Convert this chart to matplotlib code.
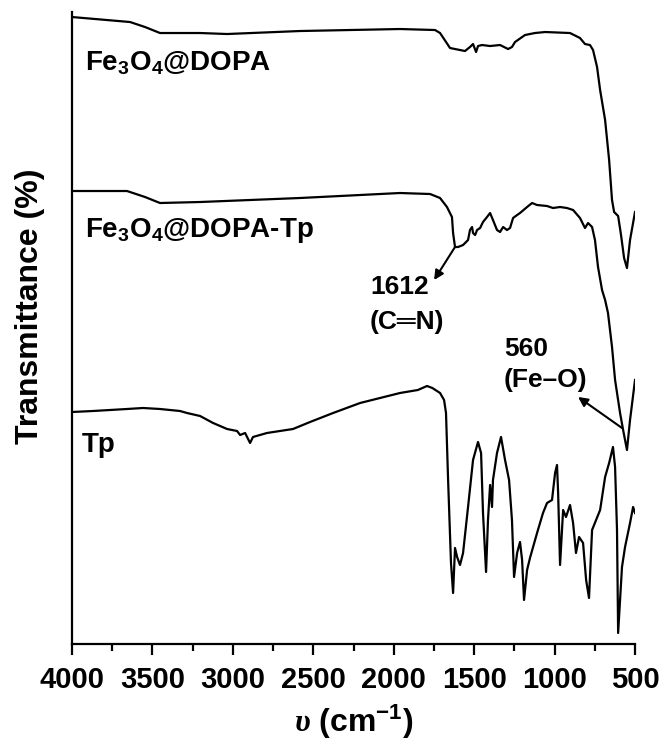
import numpy as np
import matplotlib.pyplot as plt

plt.rcParams['font.family'] = ['Liberation Sans', 'DejaVu Sans']
plt.rcParams['font.weight'] = 'bold'
plt.rcParams['mathtext.fontset'] = 'custom'
plt.rcParams['mathtext.rm'] = 'Liberation Sans:bold'
plt.rcParams['mathtext.bf'] = 'Liberation Sans:bold'
plt.rcParams['mathtext.it'] = 'Liberation Serif:italic'
plt.rcParams['mathtext.default'] = 'rm'

# Fe3O4@DOPA (offset transmittance, a.u.)
wn_dopa = [4000, 3639, 3546, 3453, 3204, 3036, 2583, 1961, 1743, 1712, 1650, 1557,
           1526, 1507, 1488, 1476, 1451, 1401, 1339, 1289, 1265, 1246, 1184, 1122,
           1059, 904, 842, 811, 780, 761, 736, 717, 686, 661, 643, 630, 605, 587,
           568, 550, 531, 500]
t_dopa = [627, 622, 617, 611, 611, 610, 613, 615, 614, 611, 596, 593,
          597, 600, 592, 598, 599, 598, 599, 595, 597, 602, 609, 611,
          612, 611, 606, 600, 599, 594, 577, 554, 524, 484, 444, 432, 428, 409,
          386, 376, 404, 432]

# Fe3O4@DOPA-Tp
wn_dopatp = [4000, 3658, 3546, 3453, 3204, 2583, 1961, 1774, 1712, 1669, 1638, 1631,
             1619, 1600, 1569, 1538, 1526, 1513, 1507, 1494, 1482, 1463, 1445, 1420,
             1401, 1383, 1358, 1339, 1320, 1296, 1277, 1258, 1233, 1215, 1171, 1140,
             1109, 1047, 1010, 966, 923, 885, 842, 811, 792, 767, 749, 730, 705, 686,
             668, 643, 624, 593, 574, 550, 531, 500]
t_dopatp = [453, 453, 447, 441, 442, 446, 451, 450, 446, 437, 427, 411,
            397, 397, 399, 404, 414, 417, 411, 409, 414, 416, 422, 427,
            431, 424, 414, 412, 417, 414, 416, 426, 429, 431, 437, 441,
            439, 438, 436, 437, 436, 434, 426, 416, 421, 417, 404, 377, 354, 344,
            331, 297, 264, 231, 214, 194, 224, 264]

# Tp
wn_tp = [4000, 3869, 3658, 3559, 3453, 3329, 3285, 3204, 3123, 3036, 2974, 2955,
         2924, 2893, 2875, 2788, 2626, 2520, 2377, 2209, 2085, 1961, 1850, 1793,
         1760, 1712, 1687, 1675, 1662, 1644, 1631, 1619, 1606, 1588, 1569, 1538, 1507,
         1476, 1457, 1445, 1426, 1414, 1401, 1389, 1383, 1358, 1333, 1308, 1283,
         1265, 1252, 1233, 1215, 1202, 1190, 1171, 1153, 1109, 1072, 1047, 1016,
         997, 985, 978, 966, 947, 929, 904, 885, 867, 848, 823, 804, 786, 767,
         717, 686, 661, 637, 624, 612, 605, 581, 562, 531, 512, 500]
t_tp = [232, 233, 235, 236, 235, 233, 231, 228, 221, 215, 213, 209,
        211, 201, 207, 211, 215, 222, 231, 241, 246, 251, 254, 258,
        256, 251, 244, 231, 164, 81, 51, 96, 87, 79, 91, 137, 184,
        202, 191, 131, 72, 124, 159, 137, 164, 191, 207, 184, 164,
        124, 67, 91, 102, 84, 44, 74, 86, 111, 131, 141, 144,
        171, 179, 151, 79, 134, 127, 139, 121, 91, 107, 101, 64, 46, 114,
        134, 167, 181, 197, 177, 114, 11, 77, 97, 121, 137, 131]

xticks = [4000, 3500, 3000, 2500, 2000, 1500, 1000, 500]

fig = plt.figure(figsize=(6.63, 7.42), dpi=100)
ax = fig.add_axes([0.1086, 0.1321, 0.8492, 0.8517])

ax.plot(wn_dopa, t_dopa, color='black', lw=1.6)
ax.plot(wn_dopatp, t_dopatp, color='black', lw=1.6)
ax.plot(wn_tp, t_tp, color='black', lw=1.6)

ax.set_xlim(4000, 500)
ax.set_ylim(0, 632)
ax.set_xticks(xticks)
ax.set_xticks(np.arange(3750, 500, -500), minor=True)
ax.set_yticks([])
for s in ['top', 'right']:
    ax.spines[s].set_visible(False)
for s in ['left', 'bottom']:
    ax.spines[s].set_linewidth(1.6)
ax.tick_params(axis='x', which='major', direction='out', length=8, width=1.6,
               labelsize=21, pad=8)
ax.tick_params(axis='x', which='minor', direction='out', length=5, width=1.6)
for lab in ax.get_xticklabels():
    lab.set_fontweight('bold')

ax.set_xlabel(r'$\mathit{\upsilon}$ (cm$^{-1}$)', fontsize=23, fontweight='bold')
ax.xaxis.set_label_coords(0.5, -0.093)
ax.set_ylabel('Transmittance (%)', fontsize=23, fontweight='bold')
ax.yaxis.set_label_coords(-0.048, 0.535)

ax.text(3919, 574, r'Fe$_{3}$O$_{4}$@DOPA', fontsize=20, fontweight='bold', va='baseline')
ax.text(3919, 407, r'Fe$_{3}$O$_{4}$@DOPA-Tp', fontsize=20, fontweight='bold', va='baseline')
ax.text(3938, 192, 'Tp', fontsize=20, fontweight='bold', va='baseline')

ax.text(2147, 357, '1612', fontsize=19, fontweight='bold', va='center')
ax.text(2147, 322, '(C\u2550N)', fontsize=19, fontweight='bold', va='center',
        family=['Liberation Sans', 'DejaVu Sans'])
ax.text(1314, 295, '560', fontsize=19, fontweight='bold', va='center')
ax.text(1314, 264, '(Fe\u2013O)', fontsize=19, fontweight='bold', va='center')

ax.annotate('', xy=(1749, 364), xytext=(1619, 397),
            arrowprops=dict(arrowstyle='-|>', color='black', lw=1.5, mutation_scale=14,
                            shrinkA=0, shrinkB=0))
ax.annotate('', xy=(854, 247), xytext=(581, 216),
            arrowprops=dict(arrowstyle='-|>', color='black', lw=1.5, mutation_scale=14,
                            shrinkA=0, shrinkB=0))

fig.savefig('out.png', dpi=100)
